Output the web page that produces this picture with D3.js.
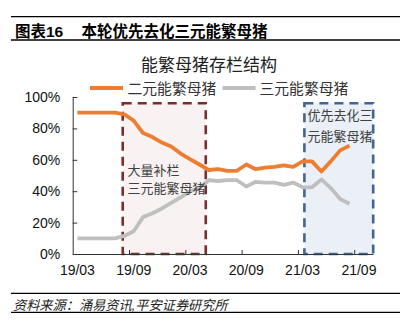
<!DOCTYPE html>
<html>
<head>
<meta charset="utf-8">
<script src="https://cdn.jsdelivr.net/npm/d3@7"></script>
<style>
  html, body { margin: 0; padding: 0; background: #fff; }
  svg { display: block; font-family: "Liberation Sans", Arial, "Noto Sans CJK SC", sans-serif; }
</style>
</head>
<body>
<div id="chart"></div>
<script>
// months on the category axis (monthly data, 19/03 .. 21/10)
const months = ["19/03","19/04","19/05","19/06","19/07","19/08","19/09","19/10","19/11","19/12",
  "20/01","20/02","20/03","20/04","20/05","20/06","20/07","20/08","20/09","20/10","20/11","20/12",
  "21/01","21/02","21/03","21/04","21/05","21/06","21/07","21/08","21/09","21/10"];
const tickLabels = ["19/03","19/09","20/03","20/09","21/03","21/09"];
const yTicks = [0, 0.2, 0.4, 0.6, 0.8, 1];

// share of sows, percent
const erYuan = [90,90,90,90,90,89,85,77,74.5,71,68.5,64,60.5,57,53.5,54,53,53,57,54,55,55.5,56.5,55.5,59,59,52.5,59,66,69];
const sanYuan = [10,10,10,10,10,11.5,14.5,23.5,26,29,32.5,36,40,42,47,46.5,47,47,43,46,45.5,45.5,44,45.5,42.5,42.5,47.5,42,35,32];

const seriesNames = ["二元能繁母猪", "三元能繁母猪"];
const colors = ["#ED7D31", "#BFBFBF"];

const width = 404, height = 333;
const margin = {left: 72.7, right: 31, top: 97, bottom: 79};

const svg = d3.select("#chart").append("svg")
  .attr("width", width).attr("height", height);

// header and footer rules
[16.7, 40, 293.3, 312.3].forEach(yy => {
  svg.append("line").attr("x1", 11).attr("x2", 400).attr("y1", yy).attr("y2", yy)
    .attr("stroke", "#000").attr("stroke-width", 1.3);
});
svg.append("text").attr("x", 15).attr("y", 37).attr("font-size", 15.5).attr("font-weight", "bold")
  .attr("fill", "#000").text("图表16");
svg.append("text").attr("x", 81.5).attr("y", 37).attr("font-size", 15.5).attr("font-weight", "bold")
  .attr("fill", "#000").text("本轮优先去化三元能繁母猪");
svg.append("text").attr("x", 13).attr("y", 309.5).attr("font-size", 13.2).attr("font-style", "italic")
  .attr("fill", "#222").text("资料来源：涌易资讯,平安证券研究所");

// title
svg.append("text").attr("x", 209).attr("y", 71).attr("text-anchor", "middle")
  .attr("font-size", 17).attr("fill", "#222").text("能繁母猪存栏结构");

const x0 = margin.left, x1 = width - margin.right;
const y0 = height - margin.bottom, y1 = margin.top;

const x = d3.scaleBand().domain(months).range([x0, x1]).padding(0);
const xu = d3.scaleLinear().domain([0, months.length]).range([x0, x1]); // category boundary units
const y = d3.scaleLinear().domain([0, 1]).range([y0, y1]);

// highlighted periods
const boxes = [
  {from: 5.33, to: 14.18, fill: "#F8F2F2", stroke: "#782E2E"},
  {from: 24.69, to: 32.02, fill: "#EBF0F7", stroke: "#42668F"}
];
svg.append("g").selectAll("rect").data(boxes).join("rect")
  .attr("x", d => xu(d.from)).attr("width", d => xu(d.to) - xu(d.from))
  .attr("y", y(0.96)).attr("height", y(0) - y(0.96))
  .attr("fill", d => d.fill).attr("stroke", d => d.stroke)
  .attr("stroke-width", 2.6).attr("stroke-dasharray", "9,6");

// axes
const yAxis = svg.append("g").attr("transform", `translate(${x0},0)`)
  .call(d3.axisLeft(y).tickValues(yTicks).tickFormat(d3.format(".0%")).tickSize(-4.5).tickPadding(12.5));
const xTicks = svg.append("g").attr("transform", `translate(0,${y0})`)
  .call(d3.axisBottom(xu).tickValues([6, 12, 18, 24, 30]).tickSize(-4).tickFormat("").tickSizeOuter(0));
const xAxis = svg.append("g").attr("transform", `translate(0,${y0})`)
  .call(d3.axisBottom(x).tickValues(tickLabels).tickSize(0).tickPadding(11));
xAxis.select(".domain").remove();
[yAxis, xTicks].forEach(g => {
  g.select(".domain").attr("stroke", "#333");
  g.selectAll(".tick line").attr("stroke", "#333");
});
[yAxis, xAxis].forEach(g => g.selectAll("text")
  .attr("font-size", 14).attr("fill", "#111").attr("font-family", "Liberation Sans, Arial, sans-serif"));

// lines
const line = d3.line()
  .x((d, i) => x(months[i]) + x.bandwidth() / 2)
  .y(d => y(d / 100));
svg.append("g").selectAll("path").data([erYuan, sanYuan]).join("path")
  .attr("d", line).attr("fill", "none")
  .attr("stroke", (d, i) => colors[i]).attr("stroke-width", 3.8)
  .attr("stroke-linejoin", "round");

// annotations
const notes = [
  {x: 127.5, y: 174.5, t: "大量补栏"},
  {x: 127.5, y: 193, t: "三元能繁母猪"},
  {x: 307.5, y: 119.5, t: "优先去化三"},
  {x: 307.5, y: 141, t: "元能繁母猪"}
];
svg.append("g").selectAll("text").data(notes).join("text")
  .attr("x", d => d.x).attr("y", d => d.y).attr("font-size", 13)
  .attr("fill", "#404040").text(d => d.t);

// legend
const legend = svg.append("g");
const legendPos = [{lx: 90, tx: 127.5}, {lx: 222.5, tx: 259.5}];
seriesNames.forEach((name, i) => {
  legend.append("line").attr("x1", legendPos[i].lx).attr("x2", legendPos[i].lx + 33)
    .attr("y1", 88).attr("y2", 88).attr("stroke", colors[i]).attr("stroke-width", 4);
  legend.append("text").attr("x", legendPos[i].tx).attr("y", 93.5).attr("font-size", 14.8)
    .attr("fill", "#333").text(name);
});
</script>
</body>
</html>
